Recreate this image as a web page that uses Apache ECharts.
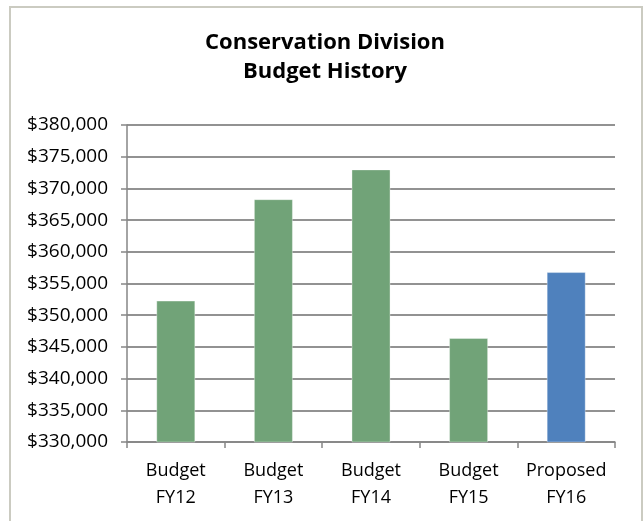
<!DOCTYPE html>
<html>
<head>
<meta charset="utf-8">
<script src="https://cdn.jsdelivr.net/npm/echarts@6/dist/echarts.min.js"></script>
<style>
  html, body { margin: 0; padding: 0; background: #ffffff; }
  #chart { width: 644px; height: 521px; }
</style>
</head>
<body>
<div id="chart"></div>
<script>
// Conservation Division budget by fiscal year
const categories = ['Budget\nFY12', 'Budget\nFY13', 'Budget\nFY14', 'Budget\nFY15', 'Proposed\nFY16'];
const budgetValues = [352300, 368300, 373000, 346400, 356800];
const barColors = ['#71a378', '#71a378', '#71a378', '#71a378', '#4f81bd'];
const yMin = 330000;
const yMax = 380000;
const yStep = 5000;

const font = '"Open Sans", "Noto Sans", sans-serif';

const chart = echarts.init(document.getElementById('chart'), null, { renderer: 'canvas' });

const fmtDollar = v => '$' + v.toLocaleString('en-US');

chart.setOption({
  animation: false,
  backgroundColor: '#ffffff',
  title: {
    text: 'Conservation Division\nBudget History',
    left: 320,
    top: 23,
    textAlign: 'center',
    textStyle: {
      fontFamily: font,
      fontWeight: 'bold',
      fontSize: 22,
      lineHeight: 29,
      color: '#000000'
    }
  },
  graphic: [{
    type: 'rect',
    shape: { x: 10, y: 7, width: 632, height: 530 },
    style: { fill: 'none', stroke: '#cbcbc1', lineWidth: 2 },
    silent: true,
    z: -1
  }],
  grid: { left: 127, right: 29, top: 125, bottom: 79, containLabel: false },
  xAxis: {
    type: 'category',
    data: categories,
    axisLine: { show: true, lineStyle: { color: '#868686', width: 1.5 } },
    axisTick: { show: true, length: 6, lineStyle: { color: '#868686', width: 1.5 } },
    axisLabel: {
      fontFamily: font,
      fontSize: 18,
      lineHeight: 27,
      color: '#000000',
      margin: 15,
      interval: 0
    },
    splitLine: { show: false }
  },
  yAxis: {
    type: 'value',
    min: yMin,
    max: yMax,
    interval: yStep,
    axisLine: { show: true, lineStyle: { color: '#868686', width: 1.5 } },
    axisTick: { show: true, length: 6, lineStyle: { color: '#868686', width: 1.5 } },
    axisLabel: {
      fontFamily: font,
      fontSize: 19,
      color: '#000000',
      margin: 19,
      formatter: fmtDollar
    },
    splitLine: { show: true, lineStyle: { color: '#6e6e6e', width: 1.5 } }
  },
  series: [{
    type: 'bar',
    data: budgetValues.map((v, i) => ({ value: v, itemStyle: { color: barColors[i] } })),
    barWidth: '40%',
    itemStyle: { borderColor: 'rgba(255,255,255,0.35)', borderWidth: 1 },
    z: 3
  }]
});
</script>
</body>
</html>
